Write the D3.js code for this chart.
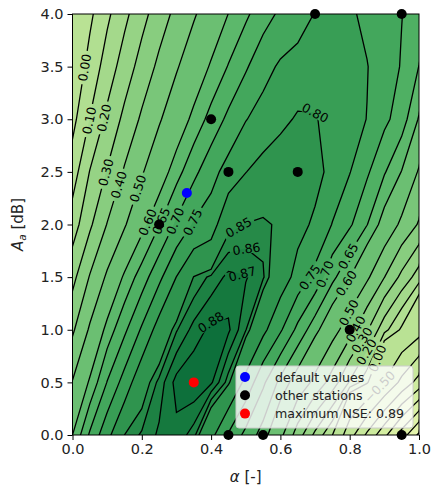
<!DOCTYPE html>
<html lang="en">
<head>
<meta charset="UTF-8">
<title>NSE contour</title>
<script src="https://cdn.jsdelivr.net/npm/d3@7"></script>
<style>
  body { margin:0; background:#fff; }
  svg { display:block; font-family:"DejaVu Sans", sans-serif; }
</style>
</head>
<body>
<svg id="chart" width="431" height="490"></svg>
<script>
// grid of the parameter search
var alphaGrid = [0.00,0.05,0.10,0.15,0.20,0.25,0.30,0.35,0.40,0.45,0.50,0.55,0.60,0.65,0.70,0.75,0.80,0.85,0.90,0.95,1.00];
var aaGrid = [0.0,0.5,1.0,1.5,2.0,2.5,3.0,3.5,4.0];

// NSE per Aa row (bottom row first), one value per alpha
var nse_00 = [0.600,0.708,0.786,0.850,0.862,0.872,0.877,0.865,0.815,0.745,0.686,0.628,0.528,0.352,0.177,0.006,-0.786,-1.586,-2.360,-3.230,-4.100];
var nse_05 = [0.505,0.610,0.702,0.771,0.838,0.864,0.884,0.889,0.882,0.855,0.786,0.710,0.636,0.568,0.474,0.356,0.190,0.033,-0.520,-1.125,-1.700];
var nse_10 = [0.385,0.513,0.621,0.690,0.757,0.823,0.859,0.874,0.883,0.882,0.861,0.813,0.757,0.687,0.619,0.541,0.443,0.312,0.136,-0.020,-0.300];
var nse_15 = [0.270,0.407,0.515,0.612,0.675,0.738,0.801,0.851,0.863,0.873,0.871,0.862,0.827,0.783,0.736,0.664,0.602,0.517,0.402,0.275,0.150];
var nse_20 = [0.150,0.283,0.404,0.491,0.582,0.648,0.710,0.756,0.775,0.845,0.851,0.855,0.845,0.815,0.792,0.748,0.708,0.652,0.573,0.480,0.390];
var nse_25 = [0.050,0.204,0.307,0.411,0.492,0.563,0.631,0.687,0.733,0.769,0.799,0.818,0.833,0.830,0.815,0.786,0.752,0.708,0.655,0.598,0.490];
var nse_30 = [-0.030,0.103,0.223,0.325,0.416,0.491,0.556,0.617,0.668,0.712,0.748,0.769,0.787,0.806,0.803,0.785,0.768,0.749,0.712,0.675,0.595];
var nse_35 = [-0.080,0.033,0.145,0.246,0.339,0.422,0.492,0.552,0.608,0.653,0.694,0.733,0.757,0.767,0.780,0.784,0.772,0.752,0.722,0.697,0.649];
var nse_40 = [-0.120,-0.020,0.080,0.175,0.267,0.352,0.426,0.491,0.547,0.601,0.641,0.679,0.709,0.729,0.752,0.768,0.758,0.738,0.718,0.701,0.680];
var nseRows = [nse_00,nse_05,nse_10,nse_15,nse_20,nse_25,nse_30,nse_35,nse_40];

// contour levels
var levels = [-4,-3.5,-3,-2.5,-2,-1.5,-1,-0.5,0,0.1,0.2,0.3,0.4,0.5,0.6,0.65,0.7,0.75,0.8,0.85,0.86,0.87,0.88];

// stations
var stationAlpha = [0.70,0.95,0.40,0.45,0.65,0.25,0.80,0.45,0.55,0.95];
var stationAa    = [4.0,4.0,3.0,2.5,2.5,2.0,1.0,0.0,0.0,0.0];
var defaultPoint = [0.33,2.3];
var maxPoint = [0.35,0.5];
var maxNse = 0.89;

// where contour labels sit (level, approx alpha, approx Aa, optional angle)
var labelSpots = [
  [0.00,0.036,3.49],[0.10,0.045,2.99],[0.20,0.094,3.01],[0.30,0.113,2.48],
  [0.40,0.140,2.37],[0.50,0.190,2.34],[0.60,0.218,2.02],[0.65,0.258,2.03],
  [0.70,0.299,2.03],[0.75,0.342,2.03],[0.80,0.700,3.06,28],[0.85,0.488,1.93,-30],
  [0.86,0.500,1.76,-8],[0.87,0.490,1.53,-15],[0.88,0.400,1.07,-33],[0.75,0.693,1.48],
  [0.70,0.735,1.52],[0.65,0.806,1.68],[0.60,0.791,1.44],[0.50,0.804,1.15],
  [0.40,0.821,1.00],[0.30,0.841,0.89],[0.20,0.853,0.78],[0.00,0.893,0.71],
  [-0.50,0.936,0.30]
];

var W = 431, H = 490;
var svg = d3.select("#chart");
var x = d3.scaleLinear().domain([0,1]).range([72.5,419]);
var y = d3.scaleLinear().domain([0,4]).range([435,14]);

var defs = svg.append("defs");
defs.append("clipPath").attr("id","plotClip").append("rect")
  .attr("x",x(0)).attr("y",y(4)).attr("width",x(1)-x(0)).attr("height",y(0)-y(4));
var mask = defs.append("mask").attr("id","labelGaps").attr("maskUnits","userSpaceOnUse")
  .attr("x",0).attr("y",0).attr("width",W).attr("height",H);
mask.append("rect").attr("width",W).attr("height",H).attr("fill","white");

// contours on the grid
var nx = alphaGrid.length, ny = aaGrid.length;
var values = [];
nseRows.forEach(function(row){ row.forEach(function(v){ values.push(v); }); });
var contours = d3.contours().size([nx,ny]).thresholds(levels)(values);

var da = alphaGrid[1]-alphaGrid[0], dAa = aaGrid[1]-aaGrid[0];
function toPx(p){
  return [x(alphaGrid[0]+(p[0]-0.5)*da), y(aaGrid[0]+(p[1]-0.5)*dAa)];
}
var proj = d3.geoTransform({point:function(px,py){ var q = toPx([px,py]); this.stream.point(q[0],q[1]); }});
var path = d3.geoPath(proj);

// band colours: one step of YlGn per band
var zeroIdx = levels.indexOf(0);
function bandColor(i){
  var t = i >= zeroIdx ? 0.36+(i-zeroIdx)*0.034 : 0.36-(zeroIdx-i)*0.02;
  return d3.interpolateYlGn(t);
}

var plot = svg.append("g").attr("clip-path","url(#plotClip)");
plot.append("rect").attr("x",x(0)).attr("y",y(4)).attr("width",x(1)-x(0)).attr("height",y(0)-y(4))
  .attr("fill",bandColor(-1));
plot.append("g").selectAll("path").data(contours).enter().append("path")
  .attr("d",path).attr("fill",function(d,i){ return bandColor(i); }).attr("stroke","none");

var lines = plot.append("g").attr("mask","url(#labelGaps)");
lines.selectAll("path").data(contours).enter().append("path")
  .attr("d",path).attr("fill","none").attr("stroke","#000").attr("stroke-width",1.3);

// contour labels, snapped onto their line
function snap(level,tx,ty){
  var c = contours[levels.indexOf(level)], best = null;
  c.coordinates.forEach(function(poly){ poly.forEach(function(ring){
    for (var i=0;i<ring.length-1;i++){
      var p = toPx(ring[i]), q = toPx(ring[i+1]);
      if (p[0]<x(0)||p[0]>x(1)||q[0]<x(0)||q[0]>x(1)||p[1]>y(0)||q[1]>y(0)||p[1]<y(4)||q[1]<y(4)) continue;
      var dx = q[0]-p[0], dy = q[1]-p[1], L = dx*dx+dy*dy;
      if (!L) continue;
      var t = Math.max(0,Math.min(1,((tx-p[0])*dx+(ty-p[1])*dy)/L));
      var sx = p[0]+t*dx, sy = p[1]+t*dy, dd = (sx-tx)*(sx-tx)+(sy-ty)*(sy-ty);
      if (!best || dd<best.d) best = {d:dd,x:sx,y:sy,ang:Math.atan2(dy,dx)*180/Math.PI};
    }
  }); });
  if (!best) return {x:tx,y:ty,ang:0};
  if (best.ang>90) best.ang -= 180;
  if (best.ang<-90) best.ang += 180;
  return best;
}
var fmt = d3.format(".2f");
var labelG = plot.append("g").attr("font-size",12.5).attr("fill","#000");
labelSpots.forEach(function(s){
  var b = snap(s[0],x(s[1]),y(s[2]));
  if (s.length > 3) b.ang = s[3];
  var tr = "translate("+b.x+","+b.y+") rotate("+b.ang+")";
  var t = labelG.append("text").attr("transform",tr).attr("text-anchor","middle")
    .attr("dy","0.36em").text(fmt(s[0]));
  var w = t.node().getComputedTextLength();
  mask.append("rect").attr("transform",tr).attr("x",-w/2-3).attr("y",-5)
    .attr("width",w+6).attr("height",10).attr("fill","black");
});

// stations
var pts = svg.append("g");
stationAlpha.forEach(function(a,i){
  pts.append("circle").attr("cx",x(a)).attr("cy",y(stationAa[i])).attr("r",5).attr("fill","#000");
});
pts.append("circle").attr("cx",x(defaultPoint[0])).attr("cy",y(defaultPoint[1])).attr("r",5).attr("fill","#0000ff");
pts.append("circle").attr("cx",x(maxPoint[0])).attr("cy",y(maxPoint[1])).attr("r",5).attr("fill","#ff0000");

// legend
var leg = svg.append("g").attr("font-size",12.6);
leg.append("rect").attr("x",236).attr("y",366).attr("width",177).attr("height",62).attr("rx",3)
  .attr("fill","#fff").attr("fill-opacity",0.8).attr("stroke","#cccccc").attr("stroke-width",1);
var legItems = [["#0000ff","default values"],["#000000","other stations"],["#ff0000","maximum NSE: "+maxNse.toFixed(2)]];
legItems.forEach(function(d,i){
  leg.append("circle").attr("cx",245).attr("cy",377+i*18.3).attr("r",5).attr("fill",d[0]);
  leg.append("text").attr("x",275).attr("y",377+i*18.3).attr("dy","0.36em").attr("fill","#222").text(d[1]);
});

// axes
var xAxis = d3.axisBottom(x).tickValues([0,0.2,0.4,0.6,0.8,1.0]).tickFormat(d3.format(".1f")).tickSize(5).tickPadding(4);
var yAxis = d3.axisLeft(y).tickValues([0,0.5,1,1.5,2,2.5,3,3.5,4]).tickFormat(d3.format(".1f")).tickSize(5).tickPadding(4);
var gx = svg.append("g").attr("transform","translate(0,"+y(0)+")").call(xAxis);
var gy = svg.append("g").attr("transform","translate("+x(0)+",0)").call(yAxis);
[gx,gy].forEach(function(g){
  g.select(".domain").remove();
  g.selectAll("text").attr("font-size",14.5).attr("font-family","DejaVu Sans").attr("fill","#222");
  g.selectAll("line").attr("stroke","#000");
});
svg.append("rect").attr("x",x(0)).attr("y",y(4)).attr("width",x(1)-x(0)).attr("height",y(0)-y(4))
  .attr("fill","none").attr("stroke","#000").attr("stroke-width",1);

// axis titles
var xl = svg.append("text").attr("x",(x(0)+x(1))/2).attr("y",477).attr("dy","0.36em")
  .attr("text-anchor","middle").attr("font-size",15).attr("fill","#222");
xl.append("tspan").attr("font-style","italic").text("α");
xl.append("tspan").text(" [-]");
var yl = svg.append("text").attr("transform","translate(18,"+((y(0)+y(4))/2)+") rotate(-90)")
  .attr("text-anchor","middle").attr("dy","0.36em").attr("font-size",15).attr("fill","#222");
yl.append("tspan").attr("font-style","italic").text("A");
yl.append("tspan").attr("font-style","italic").attr("font-size",10.5).attr("dy","0.25em").text("a");
yl.append("tspan").attr("dy","-0.18em").text(" [dB]");
</script>
</body>
</html>
